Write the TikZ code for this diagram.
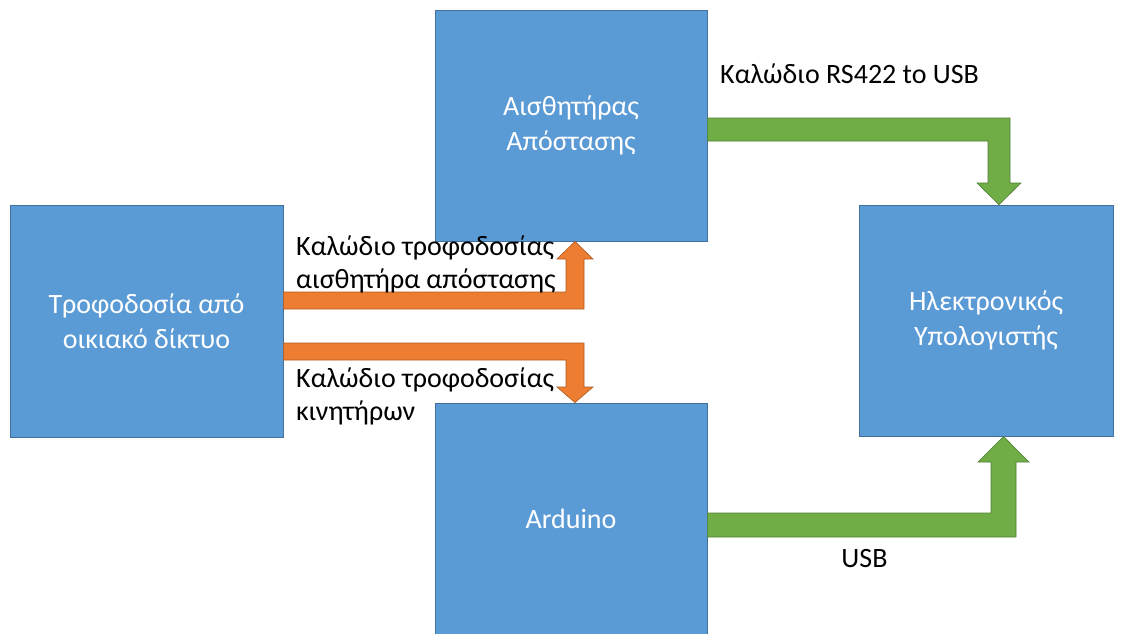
\documentclass[tikz,border=0pt]{standalone}
\usepackage{fontspec}
\setmainfont{Carlito}
\usepackage{tikz}
\usetikzlibrary{positioning, calc}
\usepackage{xcolor}

\definecolor{boxblue}{RGB}{91,155,213}
\definecolor{boxedge}{RGB}{65,113,156}
\definecolor{feedorange}{RGB}{237,125,49}
\definecolor{feededge}{RGB}{174,90,33}
\definecolor{linkgreen}{RGB}{112,173,71}
\definecolor{linkedge}{RGB}{80,126,50}

\tikzset{
    unit/.style={draw=boxedge, fill=boxblue, line width=0.8pt, text=white,
        inner sep=0pt, align=center, font=\fontsize{28}{35}\selectfont},
    feed/.style={fill=feedorange, draw=feededge, line width=0.6pt},
    link/.style={fill=linkgreen, draw=linkedge, line width=0.6pt},
    cable/.style={inner sep=0pt, align=left, font=\fontsize{28}{33}\selectfont}
}

\begin{document}
\begin{tikzpicture}[x=1pt, y=-1pt]
    \useasboundingbox (0,0) rectangle (1124,633);

    % Blocks
    \node[unit, minimum width=273pt, minimum height=232pt] (power) at (146.5,321)
        {Τροφοδοσία από\\οικιακό δίκτυο};
    \node[unit, minimum width=272pt, minimum height=231pt] (sensor) at (571,125.5)
        {Αισθητήρας\\Απόστασης};
    \node[unit, minimum width=272pt, minimum height=231pt] (arduino) at (571,518.5)
        {Arduino};
    \node[unit, minimum width=254pt, minimum height=231pt] (pc) at (986,320.5)
        {Ηλεκτρονικός\\Υπολογιστής};

    % Power cables (orange)
    \filldraw[feed] (power.east |- 0,292) -- (566,292) -- (566,259) -- (557,259)
        -- ([xshift=4pt]sensor.south) -- (593,259) -- (584,259) -- (584,309)
        -- (power.east |- 0,309) -- cycle;
    \filldraw[feed] (power.east |- 0,343) -- (584,343) -- (584,387) -- (593,387)
        -- ([xshift=4pt]arduino.north) -- (557,387) -- (566,387) -- (566,360)
        -- (power.east |- 0,360) -- cycle;

    % Data cables (green)
    \filldraw[link] (sensor.east |- 0,118) -- (1010,118) -- (1010,183) -- (1021,183)
        -- ([xshift=13pt]pc.north) -- (977,183) -- (988,183) -- (988,141)
        -- (sensor.east |- 0,141) -- cycle;
    \filldraw[link] (arduino.east |- 0,537) -- (1016,537) -- (1016,462) -- (1029,462)
        -- ([xshift=17.5pt]pc.south) -- (978,462) -- (991,462) -- (991,513)
        -- (arduino.east |- 0,513) -- cycle;

    % Cable labels (base = last line)
    \node[cable, anchor=base west] (sensorfeed) at (296,288)
        {Καλώδιο τροφοδοσίας\\αισθητήρα απόστασης};
    \node[cable, anchor=base west] (motorfeed) at (296,420)
        {Καλώδιο τροφοδοσίας\\κινητήρων};
    \node[cable, anchor=base west] (rslabel) at (720,83) {Καλώδιο RS422 to USB};
    \node[cable, anchor=base] (usblabel) at (864.5,567) {USB};
\end{tikzpicture}
\end{document}
